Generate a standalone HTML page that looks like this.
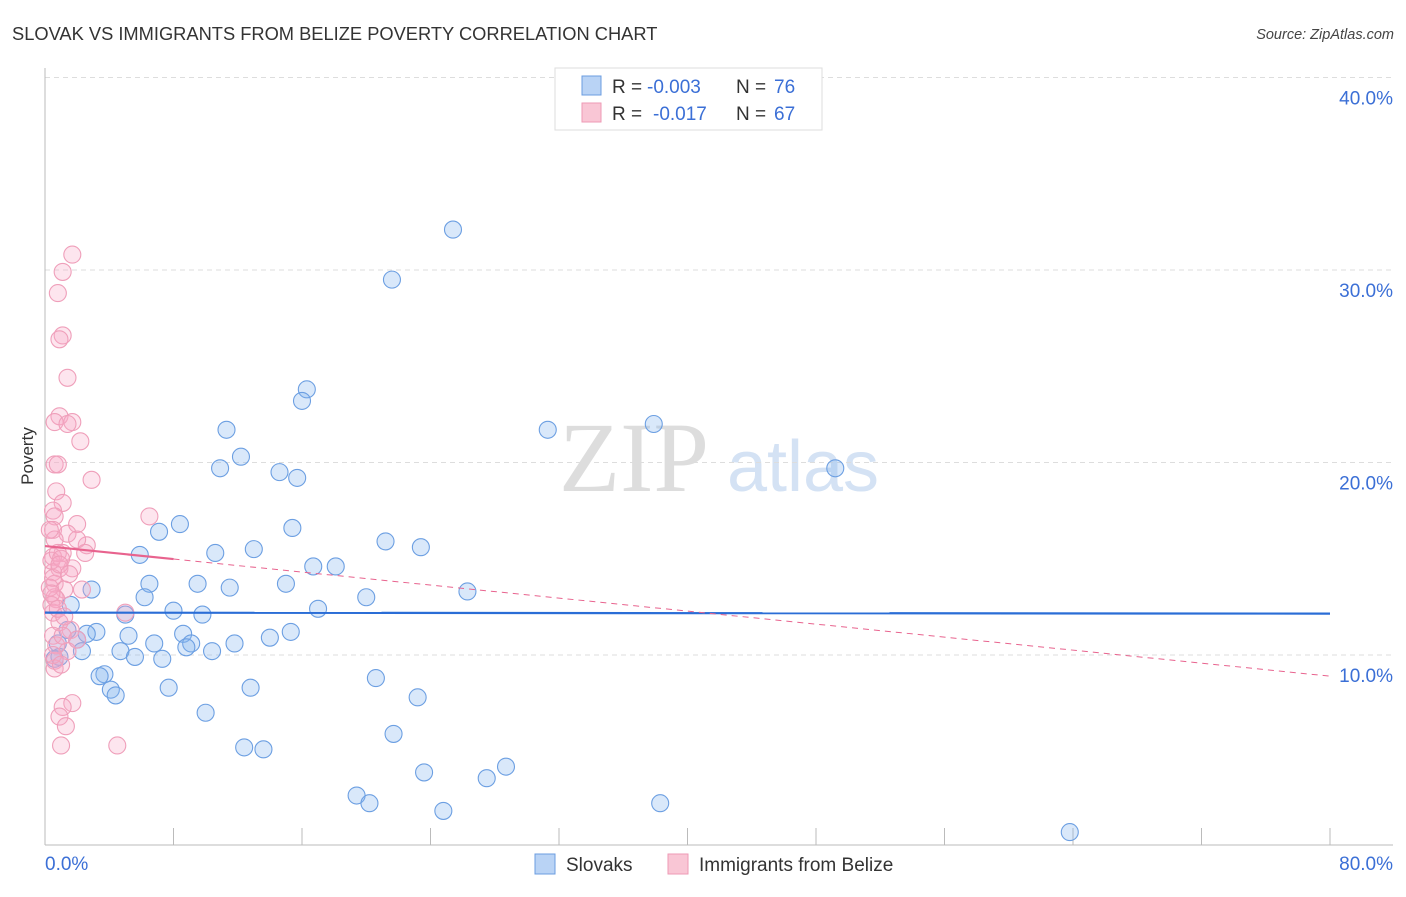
<!DOCTYPE html>
<html><head><meta charset="utf-8"><style>
body{margin:0;background:#fff;font-family:"Liberation Sans",sans-serif}
</style></head><body>
<svg id="chart" width="1406" height="892" xmlns="http://www.w3.org/2000/svg" font-family="Liberation Sans, sans-serif">
<text x="12" y="40" font-size="18.3" fill="#333">SLOVAK VS IMMIGRANTS FROM BELIZE POVERTY CORRELATION CHART</text>
<text x="1394" y="39" font-size="14.5" fill="#444" text-anchor="end" font-style="italic">Source: ZipAtlas.com</text>
<g>
<text x="634" y="491" font-size="100" fill="#ddd" text-anchor="middle" font-family="Liberation Serif, serif">ZIP</text>
<text x="803" y="491" font-size="72" fill="#d4e2f4" text-anchor="middle">atlas</text>
</g>
<g id="grid"></g>
<g id="axes"></g>
<g id="pts"></g>
<g id="trends"></g>
<g>
<rect x="555" y="68" width="267" height="62" fill="#fff" stroke="#ddd"/>
<rect x="582" y="76" width="19" height="19" fill="#b9d3f5" stroke="#6b9de0"/>
<rect x="582" y="103" width="19" height="19" fill="#f9c6d5" stroke="#ee9ab5"/>
<text x="612" y="93" font-size="19" fill="#333">R =</text>
<text x="647" y="93" font-size="19" fill="#3b6fd6">-0.003</text>
<text x="736" y="93" font-size="19" fill="#333">N =</text>
<text x="774" y="93" font-size="19" fill="#3b6fd6">76</text>
<text x="612" y="120" font-size="19" fill="#333">R =</text>
<text x="653" y="120" font-size="19" fill="#3b6fd6">-0.017</text>
<text x="736" y="120" font-size="19" fill="#333">N =</text>
<text x="774" y="120" font-size="19" fill="#3b6fd6">67</text>
</g>
<g>
<rect x="535" y="854" width="20" height="20" fill="#b9d3f5" stroke="#6b9de0"/>
<text x="566" y="871" font-size="19" fill="#333">Slovaks</text>
<rect x="668" y="854" width="20" height="20" fill="#f9c6d5" stroke="#ee9ab5"/>
<text x="699" y="871" font-size="19" fill="#333">Immigrants from Belize</text>
</g>
<text transform="translate(33,456) rotate(-90)" font-size="17" fill="#333" text-anchor="middle">Poverty</text>
</svg>
<script>
const slovakX=[25.4,21.6,16.3,16.0,11.3,31.3,37.9,12.2,10.9,14.6,15.7,49.2,8.4,7.1,15.4,21.2,23.4,5.9,13.0,10.6,16.7,18.1,6.5,9.5,11.5,15.0,2.9,6.2,20.0,26.3,1.6,8.0,9.8,17.0,3.2,2.6,2.0,5.2,8.6,6.8,9.1,11.8,14.0,15.3,8.8,0.8,2.3,4.7,5.6,7.3,10.4,0.6,3.7,3.4,4.1,4.4,7.7,12.8,20.6,23.2,10.0,21.7,12.4,13.6,23.6,27.5,28.7,19.4,20.2,24.8,38.3,63.8,5.0,0.9,1.4];
const slovakY=[32.1,29.5,23.8,23.2,21.7,21.7,22.0,20.3,19.7,19.5,19.2,19.7,16.8,16.4,16.6,15.9,15.6,15.2,15.5,15.3,14.6,14.6,13.7,13.7,13.5,13.7,13.4,13.0,13.0,13.3,12.6,12.3,12.1,12.4,11.2,11.1,10.8,11.0,11.1,10.6,10.6,10.6,10.9,11.2,10.4,10.6,10.2,10.2,9.9,9.8,10.2,9.8,9.0,8.9,8.2,7.9,8.3,8.3,8.8,7.8,7.0,5.9,5.2,5.1,3.9,3.6,4.2,2.7,2.3,1.9,2.3,0.8,12.1,9.9,11.3];
const belizeX=[1.7,1.1,0.8,1.1,0.9,1.4,0.9,0.6,1.7,1.4,2.2,0.6,0.8,2.9,0.7,1.1,0.5,0.6,2.0,6.5,0.5,1.4,0.6,2.6,2.0,1.1,0.5,1.7,0.9,0.5,0.6,1.2,2.3,0.6,0.7,5.0,0.5,0.9,1.6,0.5,2.0,1.4,0.6,0.6,1.7,1.1,0.9,1.3,1.0,4.5,0.4,0.5,0.8,1.0,0.9,0.4,0.7,1.1,0.8,1.2,0.3,1.5,0.5,1.0,0.3,2.5,0.4];
const belizeY=[30.8,29.9,28.8,26.6,26.4,24.4,22.4,22.1,22.1,22.0,21.1,19.9,19.9,19.1,18.5,17.9,17.5,17.2,16.8,17.2,16.5,16.3,16.0,15.7,16.0,15.3,15.1,14.5,14.5,14.3,13.7,13.4,13.4,13.0,12.9,12.2,12.2,11.7,11.3,11.0,10.8,10.2,9.7,9.3,7.5,7.3,6.8,6.3,5.3,5.3,14.9,14.0,15.3,15.0,14.7,12.6,10.5,11.0,12.4,12.0,13.5,14.2,10.0,9.5,16.5,15.3,13.2];
const yTicks=[10,20,30,40];
const yTickLabels=["10.0%","20.0%","30.0%","40.0%"];
const xTicks=[0,8,16,24,32,40,48,56,64,72,80];
const trendSlovak=[12.2,12.15];
const trendBelize=[15.66,8.9];
const belizeSolidEnd=8;

const NS="http://www.w3.org/2000/svg";
const X=v=>45+v*1285/80;
const Y=v=>847.5-v*19.25;
function mk(tag,attrs,parent){const e=document.createElementNS(NS,tag);for(const k in attrs)e.setAttribute(k,attrs[k]);document.getElementById(parent).appendChild(e);return e;}
yTicks.forEach((t,i)=>{
 const l=mk('line',{x1:45,x2:1393,y1:Y(t),y2:Y(t),stroke:'#ddd','stroke-dasharray':'5,4'},'grid');
 
 
 const tx=mk('text',{x:1393,y:Y(t)+27,'font-size':19,fill:'#3b6fd6','text-anchor':'end'},'grid');
 tx.textContent=yTickLabels[i];
 
 
});
const ya=mk('line',{x1:45,x2:45,y1:68,y2:845,stroke:'#bbb'},'axes');


const xa=mk('line',{x1:45,x2:1393,y1:845,y2:845,stroke:'#bbb'},'axes');


xTicks.forEach(t=>{
 const l=mk('line',{x1:X(t),x2:X(t),y1:828,y2:845,stroke:'#bbb'},'axes');
 
 
});
const x0=mk('text',{x:45,y:870,'font-size':19,fill:'#3b6fd6'},'axes');x0.textContent='0.0%';


const x1=mk('text',{x:1393,y:870,'font-size':19,fill:'#3b6fd6','text-anchor':'end'},'axes');x1.textContent='80.0%';


slovakX.forEach((v,i)=>{
 const c=mk('circle',{cx:X(v),cy:Y(slovakY[i]),r:8.5,fill:'rgba(130,178,238,0.3)',stroke:'#6c9fe2','stroke-width':1.1},'pts');
 
 
});
belizeX.forEach((v,i)=>{
 const c=mk('circle',{cx:X(v),cy:Y(belizeY[i]),r:8.5,fill:'rgba(247,170,198,0.3)',stroke:'#ef9fba','stroke-width':1.1},'pts');
 
 
});
const ts=mk('line',{x1:X(0),x2:X(80),y1:Y(trendSlovak[0]),y2:Y(trendSlovak[1]),stroke:'#2a6dd6','stroke-width':2.2},'trends');


const bAt=x=>trendBelize[0]+(trendBelize[1]-trendBelize[0])*x/80;
const tb=mk('line',{x1:X(0),x2:X(belizeSolidEnd),y1:Y(bAt(0)),y2:Y(bAt(belizeSolidEnd)),stroke:'#e8638e','stroke-width':2.2},'trends');


const td=mk('line',{x1:X(belizeSolidEnd),x2:X(80),y1:Y(bAt(belizeSolidEnd)),y2:Y(bAt(80)),stroke:'#e8638e','stroke-width':1,'stroke-dasharray':'6,5'},'trends');


</script>
</body></html>
